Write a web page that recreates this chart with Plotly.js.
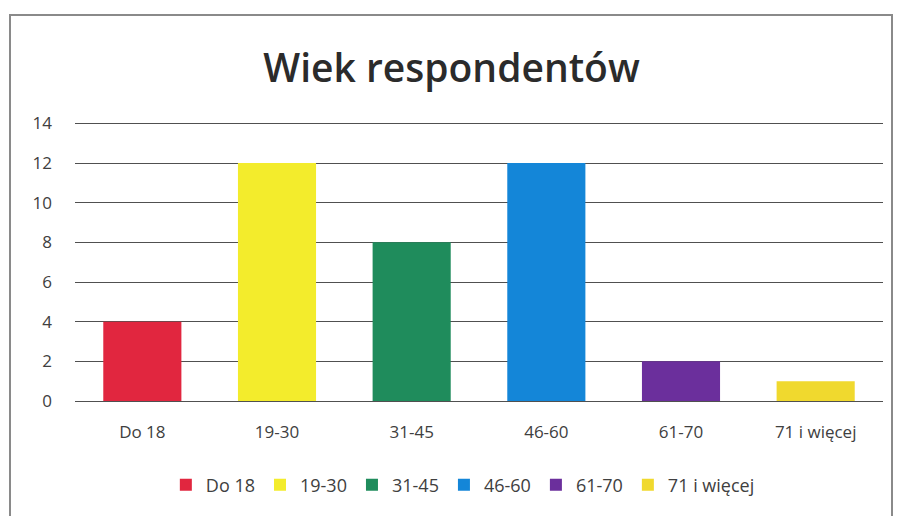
<!DOCTYPE html>
<html>
<head>
<meta charset="utf-8">
<script src="https://cdn.plot.ly/plotly-3.0.1.min.js"></script>
<style>
html,body{margin:0;padding:0;background:#fff;}
#wrap{position:relative;width:903px;height:516px;}
#chart{position:absolute;left:0;top:0;width:903px;height:516px;}
#frame{position:absolute;left:9px;top:14px;width:884px;height:510px;border:2px solid #8a8a8a;box-sizing:border-box;pointer-events:none;}
</style>
</head>
<body>
<div id="wrap"><div id="chart"></div><div id="frame"></div></div>
<script>
const categories = ["Do 18", "19-30", "31-45", "46-60", "61-70", "71 i więcej"];
const counts = [4, 12, 8, 12, 2, 1];
const yTicks = [0, 2, 4, 6, 8, 10, 12, 14];
const barColors = ["#e1263f", "#f3ec2c", "#1f8c5c", "#1486d8", "#6b2f9c", "#f0d92e"];

const traces = categories.map((c, i) => ({
  type: "bar",
  name: c,
  x: [c],
  y: [counts[i]],
  marker: {color: barColors[i], line: {width: 0}},
  width: 0.58,
  hoverinfo: "x+y"
}));

const layout = {
  width: 903, height: 516,
  paper_bgcolor: "#ffffff", plot_bgcolor: "#ffffff",
  margin: {l: 75, r: 20, t: 121, b: 113},
  barmode: "overlay",
  font: {family: "Open Sans, Noto Sans, sans-serif", color: "#404040", size: 15},
  title: {text: "Wiek respondentów", x: 0.5, xanchor: "center", y: 0.868, yanchor: "middle",
          font: {size: 39, color: "#2b2b2b", family: "Open Sans, sans-serif", weight: 600}},
  xaxis: {type: "category", categoryarray: categories, categoryorder: "array",
          showgrid: false, zeroline: false, showline: false, ticks: "",
          tickfont: {size: 17, color: "#404040"}, ticklabelstandoff: 19, fixedrange: true},
  yaxis: {range: [0, 14.12], tickvals: yTicks, ticktext: yTicks.map(String),
          showgrid: true, gridcolor: "#505050", gridwidth: 1,
          zeroline: true, zerolinecolor: "#505050", zerolinewidth: 1,
          showline: false, ticks: "", ticklabelstandoff: 22,
          tickfont: {size: 17, color: "#404040"}, fixedrange: true},
  showlegend: true,
  legend: {orientation: "h", x: 0.48, xanchor: "center", y: -0.30, yanchor: "middle",
           font: {size: 18, color: "#404040"}, traceorder: "normal", itemwidth: 30}
};

Plotly.newPlot("chart", traces, layout, {displayModeBar: false, staticPlot: true});
</script>
</body>
</html>
